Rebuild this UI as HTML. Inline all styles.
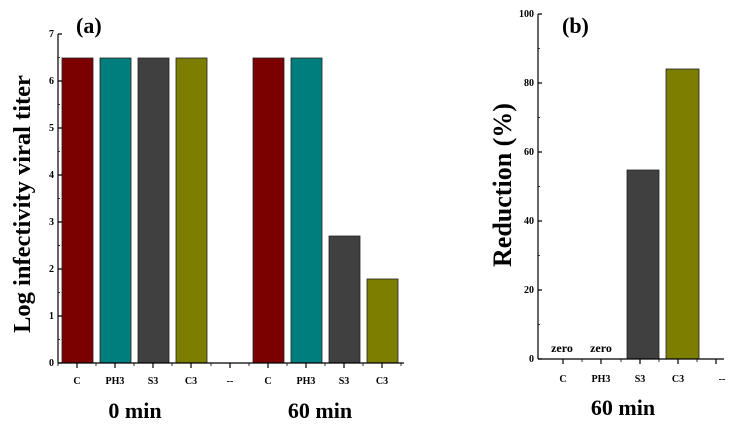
<!DOCTYPE html>
<html><head><style>html,body{margin:0;padding:0;background:#fff;}svg{display:block;}</style></head>
<body>
<svg width="731" height="425" xmlns="http://www.w3.org/2000/svg" font-family="Liberation Serif, serif" font-weight="bold">
<!-- Panel a -->
<g fill="#7b0000" stroke="#222" stroke-width="0.8">
<rect x="62" y="58" width="31" height="305"/>
<rect x="253" y="58" width="31" height="305"/>
</g>
<g fill="#007d7d" stroke="#222" stroke-width="0.8">
<rect x="100" y="58" width="31" height="305"/>
<rect x="291" y="58" width="31" height="305"/>
</g>
<g fill="#404040" stroke="#222" stroke-width="0.8">
<rect x="138" y="58" width="31" height="305"/>
<rect x="329" y="236" width="31" height="127"/>
</g>
<g fill="#7d7d00" stroke="#222" stroke-width="0.8">
<rect x="176" y="58" width="31" height="305"/>
<rect x="367" y="279" width="31" height="84"/>
</g>
<g stroke="#000" stroke-width="1.2" fill="none">
<line x1="58" y1="34" x2="58" y2="363"/>
<line x1="58" y1="363" x2="404" y2="363"/>
<path d="M58 34h4M58 81h4M58 128h4M58 175h4M58 222h4M58 269h4M58 316h4M58 363h4"/>
<path d="M58 57.5h2M58 104.5h2M58 151.5h2M58 198.5h2M58 245.5h2M58 292.5h2M58 339.5h2" stroke-width="0.8"/>
<path d="M77 363v5M115 363v5M153 363v5M191 363v5M230 363v5M268 363v5M306 363v5M344 363v5M382 363v5"/>
<path d="M58 363v3M96 363v3M134 363v3M172 363v3M211 363v3M249 363v3M287 363v3M325 363v3M363 363v3M401 363v3" stroke-width="0.8"/>
</g>
<g font-size="10" text-anchor="end">
<text x="54" y="37">7</text><text x="54" y="84">6</text><text x="54" y="131">5</text><text x="54" y="178">4</text>
<text x="54" y="225">3</text><text x="54" y="272">2</text><text x="54" y="319">1</text><text x="54" y="366">0</text>
</g>
<g font-size="10" text-anchor="middle">
<text x="77" y="384">C</text><text x="115" y="384">PH3</text><text x="153" y="384">S3</text><text x="191" y="384">C3</text>
<text x="230" y="384">--</text><text x="268" y="384">C</text><text x="306" y="384">PH3</text><text x="344" y="384">S3</text><text x="382" y="384">C3</text>
</g>
<text x="135" y="418" font-size="22" text-anchor="middle">0 min</text>
<text x="320" y="418" font-size="22" text-anchor="middle">60 min</text>
<text x="76" y="33" font-size="22">(a)</text>
<text transform="translate(30,204) rotate(-90)" font-size="24.5" text-anchor="middle">Log infectivity viral titer</text>

<!-- Panel b -->
<rect x="627" y="170" width="32" height="189" fill="#404040" stroke="#222" stroke-width="0.8"/>
<rect x="666" y="69" width="33" height="290" fill="#7d7d00" stroke="#222" stroke-width="0.8"/>
<g stroke="#000" stroke-width="1.2" fill="none">
<line x1="538" y1="14" x2="538" y2="359"/>
<line x1="538" y1="359" x2="724" y2="359"/>
<path d="M538 14h4M538 83h4M538 152h4M538 221h4M538 290h4M538 359h4"/>
<path d="M538 48.5h2M538 117.5h2M538 186.5h2M538 255.5h2M538 324.5h2" stroke-width="0.8"/>
<path d="M563 359v5M601 359v5M640 359v5M678 359v5M716 359v5"/>
<path d="M582 359v3M621 359v3M659 359v3M697 359v3" stroke-width="0.8"/>
</g>
<g font-size="10" text-anchor="end">
<text x="534" y="17">100</text><text x="534" y="86">80</text><text x="534" y="155">60</text>
<text x="534" y="224">40</text><text x="534" y="293">20</text><text x="534" y="362">0</text>
</g>
<g font-size="10" text-anchor="middle">
<text x="563" y="382">C</text><text x="601" y="382">PH3</text><text x="640" y="382">S3</text><text x="678" y="382">C3</text><text x="722" y="382">--</text>
</g>
<g font-size="12" text-anchor="middle">
<text x="562" y="352">zero</text><text x="601" y="352">zero</text>
</g>
<text x="623" y="415" font-size="22" text-anchor="middle">60 min</text>
<text x="562" y="33" font-size="22">(b)</text>
<text transform="translate(511,185) rotate(-90)" font-size="26" text-anchor="middle">Reduction (%)</text>
</svg>
</body></html>
